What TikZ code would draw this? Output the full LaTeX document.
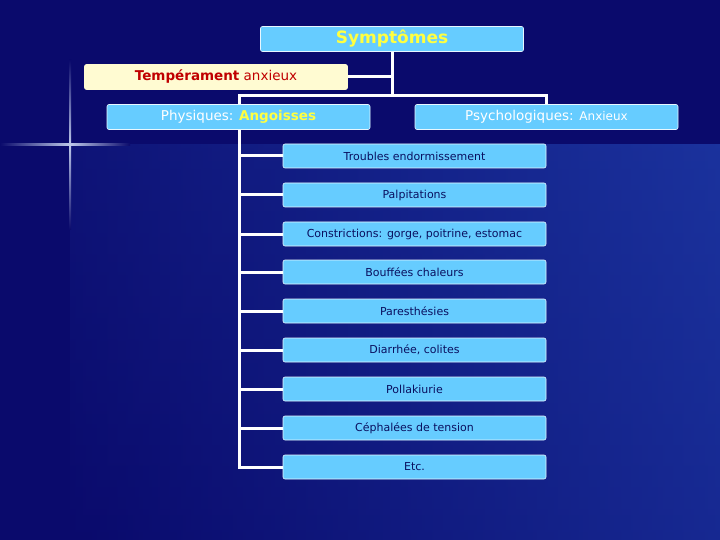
\documentclass[tikz,border=0pt]{standalone}
\usepackage{fontspec}
\setmainfont{DejaVu Sans}
\definecolor{bg}{HTML}{0A0A6C}
\definecolor{bg2}{HTML}{2448B8}
\definecolor{boxc}{HTML}{66CCFF}
\definecolor{ylw}{HTML}{FFFF40}
\definecolor{redt}{HTML}{C00000}
\definecolor{navy}{HTML}{0A1060}
\definecolor{cream}{HTML}{FFFBD2}
\begin{document}
\begin{tikzpicture}[x=1pt,y=-1pt,
  box/.style={draw=white!85!boxc,line width=0.6pt,fill=boxc,rounded corners=2pt,minimum width=263pt,minimum height=25pt,inner sep=0pt,font=\fontsize{13.5}{15}\selectfont,text=white},
  child/.style={box,minimum height=24pt,font=\fontsize{11}{13}\selectfont,text=navy},
  link/.style={white,line width=3pt}]
\useasboundingbox (0,0) rectangle (720,540);
\fill[bg] (0,0) rectangle (720,540);
\shade[left color=bg,right color=bg2] (70,145) rectangle (720,540);
\shade[top color=bg!70!bg2,bottom color=bg,opacity=0.5] (70,145) rectangle (720,540);
\shade[left color=bg,right color=white!70!bg2] (0,144) rectangle (70,146);
\shade[left color=white!70!bg2,right color=bg] (70,144) rectangle (130,146);
\shade[top color=bg,bottom color=white!70!bg2] (69,60) rectangle (71,145);
\shade[top color=white!70!bg2,bottom color=bg] (69,145) rectangle (71,230);
\node[box,font=\fontsize{17}{19}\selectfont\bfseries,text=ylw] (s) at (392,39) {Symptômes};
\node[box,fill=cream,draw=cream,text=redt] (t) at (216,77) {\textbf{Tempérament} anxieux};
\node[box] (p) at (238.5,117) {Physiques: \textcolor{ylw}{\textbf{Angoisses}}};
\node[box] (q) at (546.5,117) {Psychologiques: {\fontsize{12}{13}\selectfont Anxieux}};
\foreach \n/\y/\t in {1/156/Troubles endormissement,2/195/Palpitations,3/234/{Constrictions: gorge, poitrine, estomac},4/272/Bouffées chaleurs,5/311/Paresthésies,6/350/{Diarrhée, colites},7/389/Pollakiurie,8/428/Céphalées de tension,9/467/Etc.}
  \node[child] (c\n) at (414.5,\y) {\t};
\coordinate (j) at (392,96);
\draw[link] (s.south) -- (j);
\draw[link] (t.east) -- (t.east -| s.south);
\draw[link] (p.north -| 239,0) |- (j) -| (q.north);
\draw[link] (239,130) -- (239,467) -- (c9.west);
\foreach \n in {1,...,8} \draw[link] (c\n.west) -- (c\n.west -| 239,0);
\end{tikzpicture}
\end{document}
